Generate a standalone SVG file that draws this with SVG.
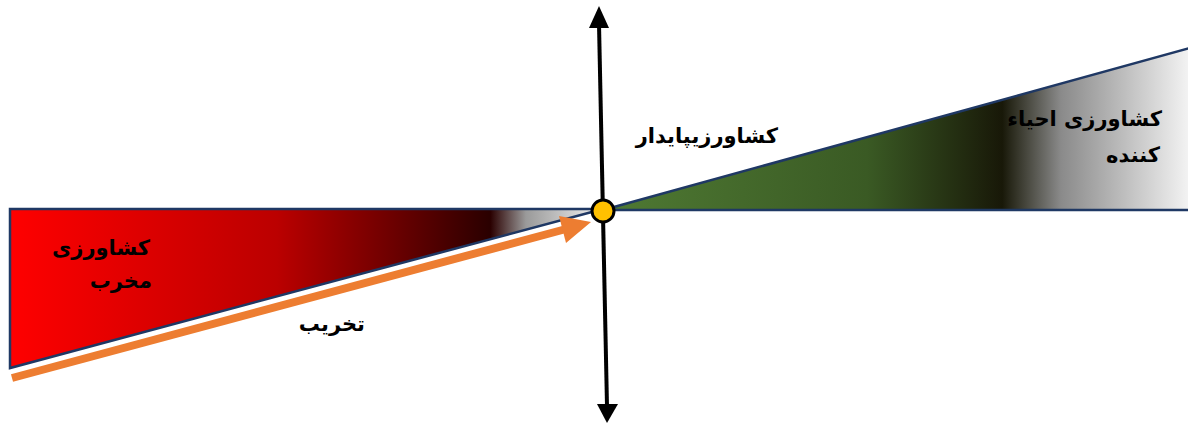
<svg xmlns="http://www.w3.org/2000/svg" width="1188" height="425" viewBox="0 0 1188 425">
<defs>
<style>
.lbl{font-family:"DejaVu Sans","Noto Sans",sans-serif;font-weight:bold;font-size:21px;fill:#000;text-anchor:end}
.edge{stroke:#1f3864;stroke-width:2.5;stroke-linejoin:miter}
</style>
<linearGradient id="gRed" x1="0" y1="0" x2="1" y2="0">
<stop offset="0" stop-color="#ff0000"/>
<stop offset="0.45" stop-color="#bb0000"/>
<stop offset="0.81" stop-color="#2a0000"/>
<stop offset="0.87" stop-color="#9a9a9a"/>
<stop offset="0.98" stop-color="#e6e6e6"/>
</linearGradient>
<linearGradient id="gGreen" x1="0" y1="0" x2="1" y2="0">
<stop offset="0" stop-color="#4f7a33"/>
<stop offset="0.45" stop-color="#3a5a24"/>
<stop offset="0.68" stop-color="#181808"/>
<stop offset="0.78" stop-color="#8a8a8a"/>
<stop offset="1" stop-color="#f4f4f4"/>
</linearGradient>
</defs>
<rect width="1188" height="425" fill="#ffffff"/>
<g id="destructive">
<polygon class="edge" points="10,209 603,209 10,368" fill="url(#gRed)"/>
<text class="lbl" x="150" y="255">کشاورزی</text>
<text class="lbl" x="152" y="288">مخرب</text>
</g>
<g id="regenerative">
<polygon class="edge" points="603,210 1190,48 1190,210" fill="url(#gGreen)"/>
<text class="lbl" x="1162" y="126">کشاورزی احیاء</text>
<text class="lbl" x="1160" y="162">کننده</text>
</g>
<g id="sustainable">
<text class="lbl" x="778" y="143">کشاورزیپایدار</text>
</g>
<g id="connectors">
<line x1="12" y1="378" x2="566" y2="229" stroke="#ed7d31" stroke-width="8"/>
<polygon points="591,222 559,216 566,243" fill="#ed7d31"/>
<line x1="599" y1="24" x2="607" y2="406" stroke="#000" stroke-width="4"/>
<polygon points="599,6 589,28 609,28" fill="#000"/>
<polygon points="607,423 597,404 618,404" fill="#000"/>
</g>
<g id="destruction-label">
<text class="lbl" x="365" y="331">تخریب</text>
</g>
<g id="center">
<circle cx="603" cy="211" r="11" fill="#ffc000" stroke="#000" stroke-width="3"/>
</g>
</svg>
